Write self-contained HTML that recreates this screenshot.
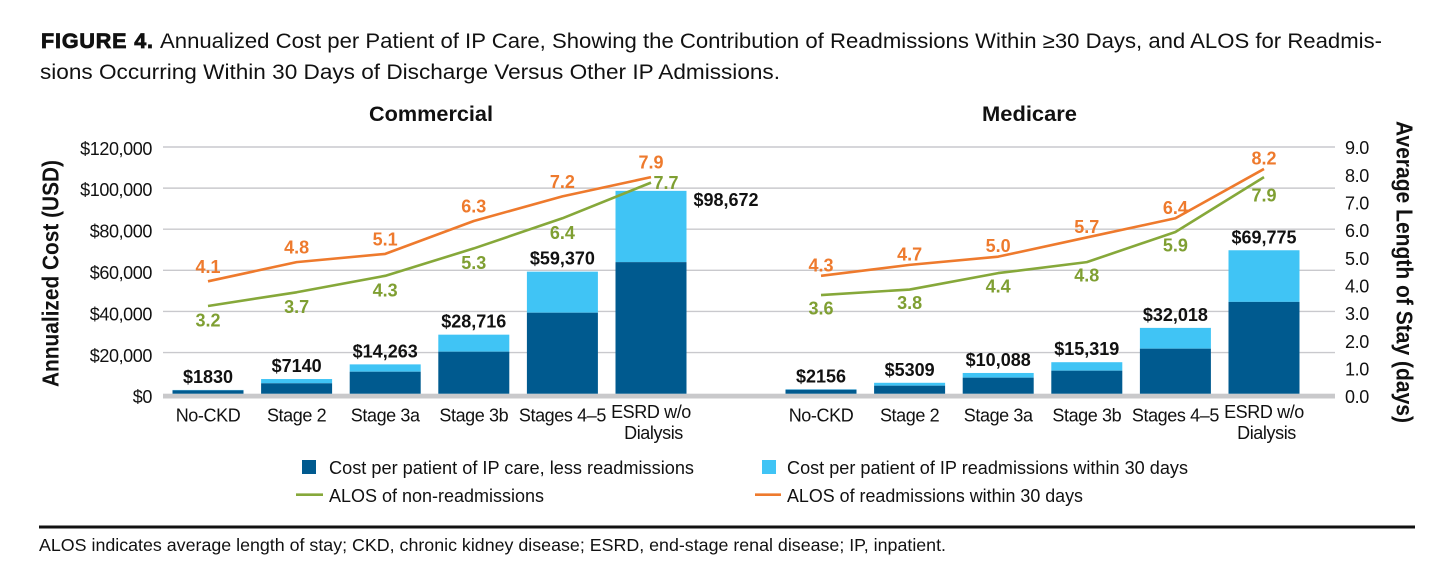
<!DOCTYPE html>
<html lang="en">
<head>
<meta charset="utf-8">
<title>Figure 4</title>
<style>
html,body{margin:0;padding:0;background:#fff;}
svg{display:block;font-family:"Liberation Sans",sans-serif;}
text{fill:#111;}
</style>
</head>
<body>
<svg id="chart" xmlns="http://www.w3.org/2000/svg" width="1456" height="568" viewBox="0 0 1456 568">
  <rect x="0" y="0" width="1456" height="568" fill="#ffffff"/>
  <text x="41" y="48" font-size="21.5" font-weight="bold" stroke="#111" stroke-width="0.8" textLength="112" lengthAdjust="spacing">FIGURE 4.</text>
  <text x="160" y="48" font-size="21.5" textLength="1222" lengthAdjust="spacingAndGlyphs">Annualized Cost per Patient of IP Care, Showing the Contribution of Readmissions Within ≥30 Days, and ALOS for Readmis-</text>
  <text x="40" y="79" font-size="21.5" textLength="740" lengthAdjust="spacingAndGlyphs">sions Occurring Within 30 Days of Discharge Versus Other IP Admissions.</text>
  <text x="369" y="121" font-size="21" font-weight="bold" textLength="124" lengthAdjust="spacingAndGlyphs">Commercial</text>
  <text x="982" y="121" font-size="21" font-weight="bold" textLength="95" lengthAdjust="spacingAndGlyphs">Medicare</text>
  <text transform="translate(58.3,387) rotate(-90)" font-size="23" font-weight="bold" textLength="227" lengthAdjust="spacingAndGlyphs">Annualized Cost (USD)</text>
  <text transform="translate(1396.5,121) rotate(90)" font-size="23" font-weight="bold" textLength="302" lengthAdjust="spacingAndGlyphs">Average Length of Stay (days)</text>
  <g id="plot"></g>
  <g>
    <rect x="302" y="460" width="14" height="14" fill="#005a8f"/>
    <text x="329" y="474" font-size="18.5" textLength="365" lengthAdjust="spacingAndGlyphs">Cost per patient of IP care, less readmissions</text>
    <rect x="762" y="460" width="14" height="14" fill="#40c4f5"/>
    <text x="787" y="474" font-size="18.5" textLength="401" lengthAdjust="spacingAndGlyphs">Cost per patient of IP readmissions within 30 days</text>
    <line x1="296" y1="494.7" x2="323" y2="494.7" stroke="#86a83a" stroke-width="2.6"/>
    <text x="329" y="502" font-size="18.5" textLength="215" lengthAdjust="spacingAndGlyphs">ALOS of non-readmissions</text>
    <line x1="755" y1="494.7" x2="781" y2="494.7" stroke="#ee7a2d" stroke-width="2.6"/>
    <text x="787" y="502" font-size="18.5" textLength="296" lengthAdjust="spacingAndGlyphs">ALOS of readmissions within 30 days</text>
  </g>
  <rect x="39" y="525.5" width="1376" height="3" fill="#111"/>
  <text x="39" y="551" font-size="17.5" textLength="907" lengthAdjust="spacingAndGlyphs">ALOS indicates average length of stay; CKD, chronic kidney disease; ESRD, end-stage renal disease; IP, inpatient.</text>
</svg>
<script>
var categories = ["No-CKD", "Stage 2", "Stage 3a", "Stage 3b", "Stages 4–5", "ESRD w/o|Dialysis"];
var costTicks = [0, 20000, 40000, 60000, 80000, 100000, 120000];
var alosTicks = [0, 1, 2, 3, 4, 5, 6, 7, 8, 9];

var commercialTotal = [1830, 7140, 14263, 28716, 59370, 98672];
var commercialBase = [1650, 5060, 10700, 20440, 39400, 64000];
var commercialAlosReadmit = [4.1, 4.8, 5.1, 6.3, 7.2, 7.9];
var commercialAlosOther = [3.2, 3.7, 4.3, 5.3, 6.4, 7.7];

var medicareTotal = [2156, 5309, 10088, 15319, 32018, 69775];
var medicareBase = [1950, 3900, 7800, 11200, 21900, 44650];
var medicareAlosReadmit = [4.3, 4.7, 5.0, 5.7, 6.4, 8.2];
var medicareAlosOther = [3.6, 3.8, 4.4, 4.8, 5.9, 7.9];

var NS = "http://www.w3.org/2000/svg";
var plot = document.getElementById("plot");
var AXIS_ZERO = 393.7, AXIS_TOP = 147, AXIS_LEFT = 163, AXIS_RIGHT = 1335;
var SLOT = 88.6, BAR_W = 71;
var BLUE = "#005a8f", SKY = "#40c4f5", GREEN = "#86a83a", ORANGE = "#ee7a2d";
var GREEN_TEXT = "#7f9f32", ORANGE_TEXT = "#ee7a2d";

function yCost(v) { return AXIS_ZERO - v / 120000 * (AXIS_ZERO - AXIS_TOP); }
function yAlos(v) { return AXIS_ZERO - v / 9 * (AXIS_ZERO - AXIS_TOP); }
function yCostLabel(v) { return 403.2 - v / 120000 * 248.4; }
function yAlosLabel(v) { return 403.2 - v / 9 * 249; }
function xPanel(start, i) { return start + i * SLOT; }
function money(v) {
  var s = String(v);
  if (v >= 10000 || v === 0) s = s.replace(/\B(?=(\d{3})+$)/g, ",");
  return "$" + s;
}
function make(tag, attrs) {
  var el = document.createElementNS(NS, tag);
  for (var k in attrs) el.setAttribute(k, attrs[k]);
  plot.appendChild(el);
  return el;
}
function label(str, x, y, size, anchor, weight, fill, spacing) {
  var el = make("text", {x: x, y: y, "font-size": size, "text-anchor": anchor, "font-weight": weight, "letter-spacing": spacing});
  el.style.fill = fill;
  el.textContent = str;
  return el;
}

costTicks.forEach(function (t) {
  if (t > 0) {
    var g = make("line", {x1: AXIS_LEFT, x2: AXIS_RIGHT, y1: yCost(t), y2: yCost(t), stroke: "#c9c9cd", "stroke-width": 1.4});
    
    
  }
  var c = label(money(t), 152, yCostLabel(t), 18, "end", "normal", "#111", -0.4);
  
  
});
alosTicks.forEach(function (t) {
  var a = label(t.toFixed(1), 1345, yAlosLabel(t), 18, "start", "normal", "#111", -0.4);
  
  
});
var band = make("rect", {x: AXIS_LEFT, y: AXIS_ZERO, width: AXIS_RIGHT - AXIS_LEFT, height: 4.8, fill: "#c9c9cb"});



function drawPanel(name, start, totals, bases, readmit, other, orangeGap, greenGap) {
  categories.forEach(function (cat, i) {
    var x = xPanel(start, i), left = x - BAR_W / 2;
    var top = yCost(totals[i]), mid = yCost(bases[i]);
    var upper = make("rect", {x: left, y: top, width: BAR_W, height: mid - top, fill: SKY});
    
    
    var lower = make("rect", {x: left, y: mid, width: BAR_W, height: AXIS_ZERO - mid, fill: BLUE});
    
    

    var sideLabel = name === "commercial" && i === categories.length - 1;
    var valueLabel = sideLabel
      ? label(money(totals[i]), x + BAR_W / 2 + 7, top + 15, 18, "start", "bold", "#111", 0)
      : label(money(totals[i]), x, top - 7, 18, "middle", "bold", "#111", 0);
    
    

    var parts = cat.split("|");
    if (parts.length === 1) {
      var tick = label(parts[0], x, 421.7, 18, "middle", "normal", "#111", -0.4);
      
      
    } else {
      var l1 = label(parts[0], x, 418, 18, "middle", "normal", "#111", -0.4);
      
      
      var l2 = label(parts[1], x + 2.5, 439, 18, "middle", "normal", "#111", -0.4);
      
      
    }
  });

  var ptsGreen = other.map(function (v, i) { return xPanel(start, i) + "," + yAlos(v); }).join(" ");
  var lineGreen = make("polyline", {points: ptsGreen, fill: "none", stroke: GREEN, "stroke-width": 2.6, "stroke-linejoin": "round"});
  
  

  var ptsOrange = readmit.map(function (v, i) { return xPanel(start, i) + "," + yAlos(v); }).join(" ");
  var lineOrange = make("polyline", {points: ptsOrange, fill: "none", stroke: ORANGE, "stroke-width": 2.6, "stroke-linejoin": "round"});
  
  

  var last = categories.length - 1;
  readmit.forEach(function (v, i) {
    var t = label(v.toFixed(1), xPanel(start, i), yAlos(v) - orangeGap + 6.5, 18, "middle", "bold", ORANGE_TEXT, 0);
    
    
  });
  other.forEach(function (v, i) {
    var dx = 0, dy = greenGap;
    if (i === last && name === "commercial") { dx = 15; dy = 0; }
    if (i === last && name === "medicare") { dy = 18; }
    var t = label(v.toFixed(1), xPanel(start, i) + dx, yAlos(v) + dy + 6.5, 18, "middle", "bold", GREEN_TEXT, 0);
    
    
  });
}

drawPanel("commercial", 208, commercialTotal, commercialBase, commercialAlosReadmit, commercialAlosOther, 15, 14);
drawPanel("medicare", 821, medicareTotal, medicareBase, medicareAlosReadmit, medicareAlosOther, 11, 13);
</script>
</body>
</html>
